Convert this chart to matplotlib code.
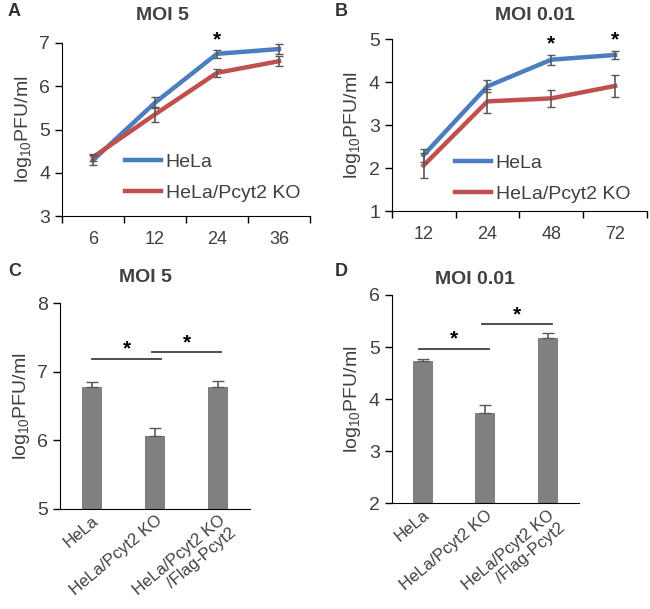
import matplotlib
matplotlib.use("Agg")
import matplotlib.pyplot as plt
import numpy as np

plt.rcParams['font.family'] = ['Liberation Sans', 'DejaVu Sans']
plt.rcParams['mathtext.fontset'] = 'custom'
plt.rcParams['mathtext.rm'] = 'Liberation Sans'

# panel A: MOI 5 time course
hpi_a = ['6', '12', '24', '36']
hela_a = [4.29, 5.62, 6.75, 6.86]
hela_a_err = [0.12, 0.12, 0.09, 0.12]
ko_a = [4.36, 5.35, 6.31, 6.58]
ko_a_err = [0.08, 0.18, 0.1, 0.12]
star_a = [2]

# panel B: MOI 0.01 time course
hpi_b = ['12', '24', '48', '72']
hela_b = [2.3, 3.9, 4.52, 4.63]
hela_b_err = [0.15, 0.14, 0.12, 0.1]
ko_b = [2.06, 3.55, 3.62, 3.91]
ko_b_err = [0.29, 0.28, 0.2, 0.26]
star_b = [2, 3]

# panels C / D: bars
groups = ['HeLa', 'HeLa/Pcyt2 KO', 'HeLa/Pcyt2 KO\n/Flag-Pcyt2']
bars_c = [6.77, 6.06, 6.77]
bars_c_err = [0.08, 0.12, 0.09]
sig_c = [(0.0, 1.1, 7.19), (0.95, 2.05, 7.29)]
bars_d = [4.73, 3.74, 5.17]
bars_d_err = [0.05, 0.15, 0.1]
sig_d = [(-0.06, 1.06, 4.97), (0.94, 2.06, 5.44)]

blue = '#4a7ebf'
red = '#c0504d'
errc = '#595959'
txt = '#404040'

fig = plt.figure(figsize=(6.5, 6.09), dpi=100)


def line_panel(rect, cats, h, he, k, ke, ylim, stars, leg_anchor):
    ax = fig.add_axes(rect)
    x = np.arange(len(cats))
    ax.plot(x, h, color=blue, lw=3.2, label='HeLa', zorder=3)
    ax.plot(x, k, color=red, lw=3.2, label='HeLa/Pcyt2 KO', zorder=3)
    ax.errorbar(x, h, yerr=he, fmt='none', ecolor=errc, elinewidth=1.2, capsize=3, zorder=4)
    ax.errorbar(x, k, yerr=ke, fmt='none', ecolor=errc, elinewidth=1.2, capsize=3, zorder=4)
    for i in stars:
        ax.text(x[i], h[i] + he[i] + 0.02, '*', ha='center', va='bottom', fontsize=15, fontweight='bold', color='black')
    ax.set_xlim(-0.5, len(cats) - 0.5)
    ax.set_ylim(*ylim)
    ax.set_yticks(np.arange(ylim[0], ylim[1] + 1))
    ax.set_xticks(np.arange(-0.5, len(cats)))
    ax.set_xticks(x, minor=True)
    ax.set_xticklabels([''] * (len(cats) + 1))
    ax.set_xticklabels(cats, minor=True)
    ax.tick_params(axis='x', which='major', length=5, width=1, direction='out')
    ax.tick_params(axis='x', which='minor', length=0, pad=11, labelsize=13, labelcolor=txt)
    ax.tick_params(axis='y', length=5, width=1, labelsize=14, labelcolor=txt)
    ax.spines[['top', 'right']].set_visible(False)
    ax.set_ylabel(r'log$_{10}$PFU/ml', fontsize=14, color=txt, labelpad=4)
    ax.legend(loc='upper left', bbox_to_anchor=leg_anchor, bbox_transform=fig.transFigure,
              frameon=False, fontsize=14, borderaxespad=0, borderpad=0,
              handlelength=1.85, handletextpad=0.25, labelspacing=0.7, labelcolor=txt)
    return ax


def bar_panel(rect, vals, errs, ylim, sigs):
    ax = fig.add_axes(rect)
    x = np.arange(len(groups))
    ax.bar(x, vals, width=0.32, color='#808080', bottom=0, zorder=2)
    ax.errorbar(x, vals, yerr=[np.zeros(len(errs)), errs], fmt='none', ecolor=errc,
                elinewidth=1.2, capsize=4, zorder=3)
    for x0, x1, y in sigs:
        ax.plot([x0, x1], [y, y], color='#404040', lw=1.3, clip_on=False)
        ax.text((x0 + x1) / 2, y, '*', ha='center', va='bottom', fontsize=15, fontweight='bold', color='black')
    ax.set_xlim(-0.5, 2.5)
    ax.set_ylim(*ylim)
    ax.set_yticks(np.arange(ylim[0], ylim[1] + 1))
    ax.set_xticks(x)
    ax.set_xticklabels(groups, rotation=40, ha='right', rotation_mode='anchor', fontsize=12,
                       color=txt, linespacing=1.15)
    ax.tick_params(axis='x', length=0, pad=3)
    ax.tick_params(axis='y', length=5, width=1, labelsize=14, labelcolor=txt)
    ax.spines[['top', 'right']].set_visible(False)
    ax.set_ylabel(r'log$_{10}$PFU/ml', fontsize=14, color=txt, labelpad=4)
    return ax


line_panel([0.0954, 0.6453, 0.3815, 0.2841], hpi_a, hela_a, hela_a_err, ko_a, ko_a_err, (3, 7), star_a,
           (125 / 650, 1 - 153 / 609))
line_panel([0.6026, 0.6535, 0.3928, 0.2824], hpi_b, hela_b, hela_b_err, ko_b, ko_b_err, (1, 5), star_b,
           (455 / 650, 1 - 154 / 609))
bar_panel([0.0923, 0.1650, 0.2923, 0.3369], bars_c, bars_c_err, (5, 8), sig_c)
bar_panel([0.6026, 0.1736, 0.2882, 0.3420], bars_d, bars_d_err, (2, 6), sig_d)

for s, px, py in [('A', 8, 12), ('B', 335, 12), ('C', 8, 272), ('D', 335, 272)]:
    fig.text(px / 650, 1 - py / 609, s, fontsize=13, fontweight='bold', color='#333333', ha='left', va='center')
for s, px, py in [('MOI 5', 162, 15), ('MOI 0.01', 535, 15), ('MOI 5', 145, 277), ('MOI 0.01', 475, 280)]:
    fig.text(px / 650, 1 - py / 609, s, fontsize=14, fontweight='bold', color=txt, ha='center', va='center')

fig.savefig('out.png', dpi=100)
